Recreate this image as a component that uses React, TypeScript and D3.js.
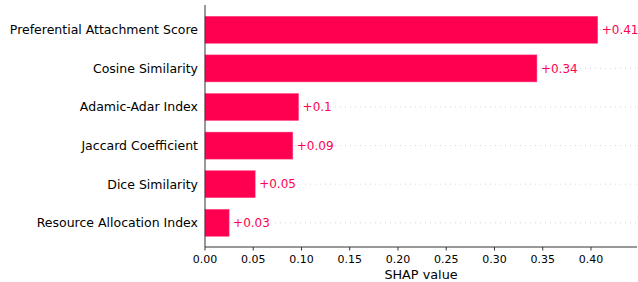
import React from "react";
import * as d3 from "d3";

const features = [
  "Preferential Attachment Score",
  "Cosine Similarity",
  "Adamic-Adar Index",
  "Jaccard Coefficient",
  "Dice Similarity",
  "Resource Allocation Index",
];
const values = [0.407, 0.344, 0.097, 0.091, 0.052, 0.025];
const valueLabels = ["+0.41", "+0.34", "+0.1", "+0.09", "+0.05", "+0.03"];
const ticks = [0, 0.05, 0.1, 0.15, 0.2, 0.25, 0.3, 0.35, 0.4];

export default function App() {
  const W = 638, H = 282;
  const left = 205, right = 637, top = 10.5, bottom = 247;
  const x = d3.scaleLinear().domain([0, 0.4477]).range([left, right]);
  const y = d3.scaleBand<string>().domain(features).range([top, top + 38.6 * 6]).paddingInner(0.3).paddingOuter(0.15);
  const font = "DejaVu Sans, sans-serif";
  const color = "#ff0051";
  return (
    <svg width={W} height={H} style={{ position: "absolute", left: 0, top: 0 }} fontFamily={font}>
      <rect width={W} height={H} fill="#fff" />
      {features.map((f, i) => {
        const cy = (y(f) as number) + y.bandwidth() / 2;
        return (
          <line key={"g" + i} x1={left} x2={right} y1={cy} y2={cy} stroke="#ccc" strokeWidth={0.8} strokeDasharray="1,4" />
        );
      })}
      {features.map((f, i) => {
        const yy = y(f) as number;
        const cy = yy + y.bandwidth() / 2;
        return (
          <g key={"b" + i}>
            <rect x={x(0)} y={yy} width={x(values[i]) - x(0)} height={y.bandwidth()} fill={color} stroke="#ff4d85" strokeWidth={0.5} />
            <text x={x(values[i]) + 4} y={cy} dy="0.35em" fontSize={12} fill={color}>{valueLabels[i]}</text>
            <text x={left - 7} y={cy} dy="0.35em" fontSize={12.5} textAnchor="end" fill="#000">{f}</text>
          </g>
        );
      })}
      <line x1={left} x2={left} y1={5} y2={bottom} stroke="#333" strokeWidth={1} />
      <line x1={left} x2={right} y1={bottom} y2={bottom} stroke="#333" strokeWidth={1} />
      {ticks.map((t, i) => (
        <g key={"t" + i}>
          <line x1={x(t)} x2={x(t)} y1={bottom} y2={bottom + 3.5} stroke="#333" />
          <text x={x(t)} y={bottom + 16} fontSize={11} textAnchor="middle" fill="#000">{t.toFixed(2)}</text>
        </g>
      ))}
      <text x={(left + right) / 2} y={279} fontSize={12.8} textAnchor="middle" fill="#000">SHAP value</text>
    </svg>
  );
}
